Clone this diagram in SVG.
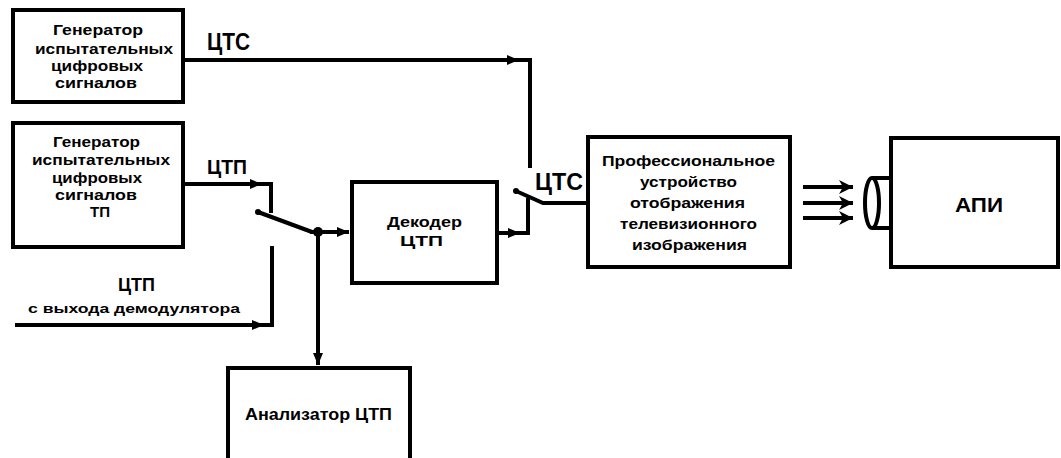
<svg xmlns="http://www.w3.org/2000/svg" width="1061" height="458" viewBox="0 0 1061 458">
<style>
  .box{fill:none;stroke:#000;stroke-width:4}
  .ln{fill:none;stroke:#000;stroke-width:4;stroke-linejoin:miter}
  .t{font-family:"Liberation Sans",Arial,sans-serif;font-weight:bold;fill:#000}
  .s{font-size:14px}
</style>
<defs>
  <marker id="arr" markerUnits="userSpaceOnUse" markerWidth="14" markerHeight="10" refX="12" refY="5" orient="auto">
    <path d="M0,0 L12,5 L0,10 Z" fill="#000"/>
  </marker>
  <marker id="arrL" markerUnits="userSpaceOnUse" markerWidth="16" markerHeight="14" refX="14" refY="7" orient="auto">
    <path d="M0,0 L14,7 L0,14 L4,7 Z" fill="#000"/>
  </marker>
</defs>
<rect width="1061" height="458" fill="#fff"/>

<g id="gen1">
  <rect class="box" x="13" y="10" width="170" height="92"/>
  <text class="t s" x="53" y="35" textLength="90" lengthAdjust="spacingAndGlyphs">Генератор</text>
  <text class="t s" x="35" y="54" textLength="138" lengthAdjust="spacingAndGlyphs">испытательных</text>
  <text class="t s" x="51" y="71" textLength="92" lengthAdjust="spacingAndGlyphs">цифровых</text>
  <text class="t s" x="55" y="88" textLength="82" lengthAdjust="spacingAndGlyphs">сигналов</text>
</g>

<g id="gen2">
  <rect class="box" x="13" y="123" width="170" height="124"/>
  <text class="t s" x="53" y="147" textLength="87" lengthAdjust="spacingAndGlyphs">Генератор</text>
  <text class="t s" x="32" y="165" textLength="138" lengthAdjust="spacingAndGlyphs">испытательных</text>
  <text class="t s" x="52" y="183" textLength="90" lengthAdjust="spacingAndGlyphs">цифровых</text>
  <text class="t s" x="55" y="200" textLength="82" lengthAdjust="spacingAndGlyphs">сигналов</text>
  <text class="t s" x="90" y="217" textLength="20" lengthAdjust="spacingAndGlyphs">ТП</text>
</g>

<g id="decoder">
  <rect class="box" x="352" y="182" width="145" height="101"/>
  <text class="t s" x="387" y="227" textLength="75" lengthAdjust="spacingAndGlyphs">Декодер</text>
  <text class="t s" x="400" y="246" textLength="43" lengthAdjust="spacingAndGlyphs">ЦТП</text>
</g>

<g id="analyzer">
  <path class="box" d="M228,470 V368 H410 V470"/>
  <text class="t" font-size="16" x="245" y="420" textLength="147" lengthAdjust="spacingAndGlyphs">Анализатор ЦТП</text>
</g>

<g id="display">
  <rect class="box" x="588" y="137" width="202" height="130"/>
  <text class="t s" x="602" y="166" textLength="173" lengthAdjust="spacingAndGlyphs">Профессиональное</text>
  <text class="t s" x="640" y="187" textLength="97" lengthAdjust="spacingAndGlyphs">устройство</text>
  <text class="t s" x="630" y="208" textLength="115" lengthAdjust="spacingAndGlyphs">отображения</text>
  <text class="t s" x="620" y="229" textLength="137" lengthAdjust="spacingAndGlyphs">телевизионного</text>
  <text class="t s" x="632" y="250" textLength="115" lengthAdjust="spacingAndGlyphs">изображения</text>
</g>

<g id="api">
  <rect class="box" x="891" y="138" width="167" height="129"/>
  <text class="t" font-size="20" x="955" y="212" textLength="48" lengthAdjust="spacingAndGlyphs">АПИ</text>
</g>

<g id="lens">
  <ellipse cx="872" cy="203" rx="7" ry="25" fill="#fff" stroke="#000" stroke-width="4"/>
  <path class="ln" d="M872,178 H891 M872,228 H891"/>
</g>

<g id="labels">
  <text class="t" font-size="23" x="207" y="50" textLength="43" lengthAdjust="spacingAndGlyphs">ЦТС</text>
  <text class="t" font-size="20" x="207" y="174" textLength="40" lengthAdjust="spacingAndGlyphs">ЦТП</text>
  <text class="t" font-size="23" x="535" y="190" textLength="48" lengthAdjust="spacingAndGlyphs">ЦТС</text>
  <text class="t" font-size="18" x="118" y="291" textLength="37" lengthAdjust="spacingAndGlyphs">ЦТП</text>
  <text class="t" font-size="12" x="28" y="313" textLength="212" lengthAdjust="spacingAndGlyphs">с выхода демодулятора</text>
</g>

<g id="connectors">
  <!-- ЦТС from generator 1 to switch 2 -->
  <path class="ln" d="M183,60 H519" marker-end="url(#arr)"/>
  <path class="ln" d="M517,60 H530 V168"/>
  <!-- ЦТП from generator 2 to switch 1 -->
  <path class="ln" d="M183,184 H262" marker-end="url(#arr)"/>
  <path class="ln" d="M260,184 H271 V213"/>
  <!-- ЦТП from demodulator -->
  <path class="ln" d="M15,325 H264" marker-end="url(#arr)"/>
  <path class="ln" d="M262,325 H272 V246"/>
  <!-- switch 1 blade -->
  <path class="ln" d="M258,212 L312,232"/>
  <circle cx="258" cy="212" r="3" fill="#000"/>
  <!-- to decoder -->
  <path class="ln" d="M310,232 H349" marker-end="url(#arr)"/>
  <circle cx="318" cy="232" r="5" fill="#000"/>
  <!-- to analyzer -->
  <path class="ln" d="M318,232 V365" marker-end="url(#arr)"/>
  <!-- decoder output to switch 2 -->
  <path class="ln" d="M497,233 H520" marker-end="url(#arr)"/>
  <path class="ln" d="M518,233 H528 V198"/>
  <!-- switch 2 blade and output -->
  <path class="ln" d="M516,191 L543,203 H588"/>
  <circle cx="516" cy="191" r="3" fill="#000"/>
  <!-- light arrows -->
  <path class="ln" d="M803,187 H853" marker-end="url(#arrL)"/>
  <path class="ln" d="M803,203 H853" marker-end="url(#arrL)"/>
  <path class="ln" d="M803,218 H853" marker-end="url(#arrL)"/>
</g>
</svg>
